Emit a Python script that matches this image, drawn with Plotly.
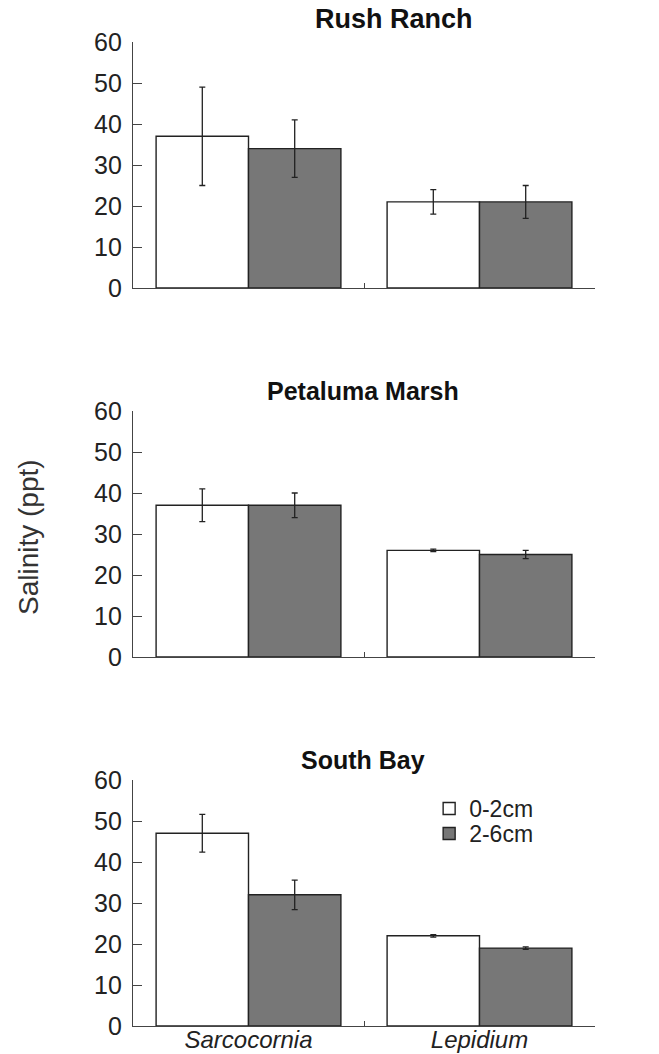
import plotly.graph_objects as go
from plotly.subplots import make_subplots

sites = ["Rush Ranch", "Petaluma Marsh", "South Bay"]
species = ["Sarcocornia", "Lepidium"]
depths = ["0-2cm", "2-6cm"]

shallow_mean = [[37, 21], [37, 26], [47, 22]]
shallow_err = [[12, 3], [4, 0.3], [4.6, 0.3]]
deep_mean = [[34, 21], [37, 25], [32, 19]]
deep_err = [[7, 4], [3, 1], [3.6, 0.3]]

y_ticks = [0, 10, 20, 30, 40, 50, 60]

fig = make_subplots(rows=3, cols=1, vertical_spacing=0.125)

fills = ["#ffffff", "#777777"]
legend_ids = ["legend", "legend2"]
for i, site in enumerate(sites):
    for j, (means, errs) in enumerate([(shallow_mean, shallow_err), (deep_mean, deep_err)]):
        fig.add_trace(go.Bar(
            x=species, y=means[i], name=depths[j],
            marker=dict(color=fills[j], line=dict(color="#222222", width=1.4)),
            error_y=dict(type="data", array=errs[i], visible=True,
                         color="#222222", thickness=1.3, width=3),
            showlegend=(i == 2), legendgroup=depths[j], legend=legend_ids[j],
        ), row=i + 1, col=1)

domains = [[0.75, 1.0], [0.375, 0.625], [0.0, 0.25]]
for i in range(3):
    ax = "" if i == 0 else str(i + 1)
    fig.layout["yaxis" + ax].update(
        domain=domains[i], range=[0, 60], tickvals=y_ticks, ticks="inside",
        ticklen=9, tickcolor="#444444", showline=True, linecolor="#444444",
        linewidth=1.3, showgrid=False, zeroline=False, automargin=False,
        tickfont=dict(size=25, color="#222222"), ticklabelstandoff=5,
    )
    fig.layout["xaxis" + ax].update(
        type="category", tickson="boundaries", ticks="inside", ticklen=5,
        tickcolor="#444444", showline=True, linecolor="#444444", linewidth=1.3,
        showgrid=False, zeroline=False, showticklabels=(i == 2), automargin=False,
        tickfont=dict(size=24, color="#222222", style="italic"),
        ticklabelstandoff=-8,
    )

title_x = [0.565, 0.498, 0.498]
title_y = [1.0234, 0.6453, 0.2703]
title_size = [27, 25, 25]
for i, site in enumerate(sites):
    fig.add_annotation(text="<b>" + site + "</b>", x=title_x[i], y=title_y[i],
                       xref="paper", yref="paper", showarrow=False,
                       xanchor="center", yanchor="middle",
                       font=dict(size=title_size[i], color="#111111"))

fig.add_annotation(text="Salinity (ppt)", x=-0.225, y=0.497, xref="paper",
                   yref="paper", showarrow=False, textangle=-90,
                   xanchor="center", yanchor="middle",
                   font=dict(size=28, color="#333333"))

legend_style = dict(xanchor="left", yanchor="middle",
                    font=dict(size=23, color="#222222"),
                    bgcolor="rgba(0,0,0,0)", itemwidth=30)

fig.update_layout(
    width=659, height=1054,
    margin=dict(l=133, r=64, t=42, b=28, autoexpand=False),
    paper_bgcolor="white", plot_bgcolor="white",
    font=dict(family="Liberation Sans, Arial, sans-serif"),
    barmode="group", bargap=0.2, bargroupgap=0,
    legend=dict(x=0.641, y=0.2210, **legend_style),
    legend2=dict(x=0.641, y=0.1956, **legend_style),
)

fig.write_html("out.html")
